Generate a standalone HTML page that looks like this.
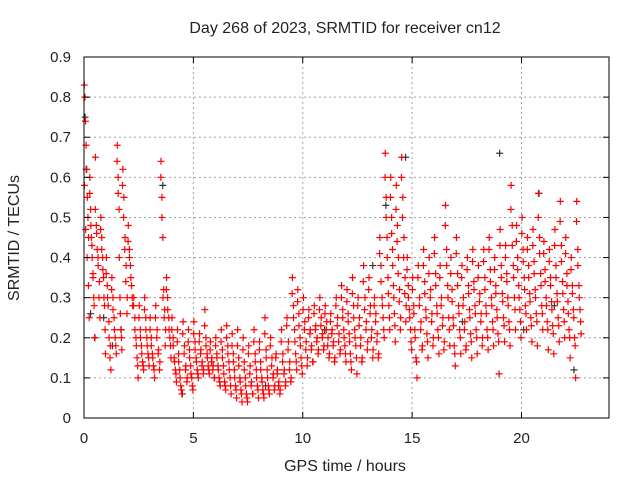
<!DOCTYPE html>
<html><head><meta charset="utf-8"><style>
body{margin:0;background:#fff;}
svg text{font-family:"Liberation Sans",sans-serif;fill:#222;}
</style></head><body>
<svg id="chart" width="640" height="480" xmlns="http://www.w3.org/2000/svg">
<rect width="640" height="480" fill="#fff"/>
<g id="grid"></g>
<g id="points"></g>
<rect x="84" y="57" width="525" height="361" fill="none" stroke="#000" stroke-width="1"/>
<g id="ticks"></g>
<text x="345" y="33" font-size="16" text-anchor="middle">Day 268 of 2023, SRMTID for receiver cn12</text>
<text x="345" y="471" font-size="16" text-anchor="middle">GPS time / hours</text>
<text transform="translate(19,238) rotate(-90)" font-size="16" text-anchor="middle">SRMTID / TECUs</text>
</svg>
<script>
const xTicks=[0,5,10,15,20];
const yTicks=[0,0.1,0.2,0.3,0.4,0.5,0.6,0.7,0.8,0.9];
const binWidth=0.25;
const redBins=[
[.83,.80,.74,.68,.62,.55,.50,.45,.25],[.60,.52,.45,.40,.35,.30,.20],[.65,.48,.42,.38,.30,.25],[.50,.45,.40,.35,.28,.16],
[.40,.33,.28,.20,.15,.12],[.35,.30,.25,.20,.16],[.68,.60,.52,.30,.22,.17],[.62,.55,.45,.38,.30],
[.48,.42,.38,.33,.28],[.30,.25,.20,.15,.10],[.28,.22,.18,.14,.12],[.30,.25,.20,.16,.13],
[.25,.20,.16,.13,.10],[.28,.22,.17,.14],[.64,.55,.45,.32,.27,.22],[.35,.30,.25,.20,.15],
[.25,.20,.15,.12,.09],[.22,.16,.12,.08,.06],[.24,.18,.13,.10],[.22,.17,.13,.10,.07],
[.24,.19,.15,.12,.10],[.21,.17,.14,.12],[.27,.20,.16,.13,.11],[.19,.15,.13,.10],
[.20,.16,.13,.10,.08],[.22,.17,.13,.09,.07],[.23,.18,.14,.10,.06],[.21,.16,.12,.08,.05],
[.22,.15,.10,.07,.04],[.20,.14,.10,.06,.04],[.18,.13,.09,.06],[.22,.16,.12,.08,.05],
[.19,.14,.10,.07,.05],[.25,.17,.12,.08,.06],[.20,.15,.11,.08],[.16,.12,.09,.07],
[.22,.16,.12,.09],[.25,.19,.14,.10],[.35,.28,.22,.16,.12],[.32,.26,.20,.15,.11],
[.30,.24,.19,.15],[.27,.22,.18,.14],[.28,.23,.20,.17],[.30,.25,.21,.18],
[.28,.24,.20,.16],[.26,.22,.19,.15],[.30,.25,.21,.17],[.33,.27,.22,.18,.14],
[.32,.26,.21,.16,.12],[.35,.28,.22,.18,.11],[.30,.25,.20,.15],[.38,.30,.24,.19],
[.35,.28,.22,.17],[.30,.26,.21,.16],[.45,.38,.30,.25,.20],[.66,.55,.45,.35,.28,.22],
[.60,.50,.42,.33,.26,.19],[.58,.48,.40,.32,.25],[.65,.55,.45,.35,.28],[.40,.33,.27,.22,.17],
[.35,.28,.22,.15,.10],[.38,.30,.24,.18],[.42,.34,.27,.21,.15],[.40,.32,.26,.20],
[.45,.36,.28,.22,.16],[.38,.30,.25,.19],[.53,.42,.33,.25,.18],[.40,.32,.25,.18,.13],
[.45,.36,.28,.22,.16],[.38,.30,.24,.18],[.40,.33,.27,.21,.15],[.42,.34,.28,.22,.16],
[.38,.31,.26,.20],[.42,.35,.28,.22,.17],[.45,.37,.30,.24,.18],[.40,.33,.27,.21,.11],
[.47,.38,.31,.25,.19],[.43,.36,.30,.24,.18],[.58,.48,.38,.30,.22],[.48,.40,.33,.27,.20],
[.50,.42,.35,.28,.22],[.45,.38,.31,.25,.19],[.47,.39,.32,.26,.18],[.56,.45,.36,.28,.22],
[.44,.37,.30,.24,.17],[.42,.35,.29,.23,.16],[.47,.38,.31,.25,.19],[.54,.43,.34,.27,.20],
[.45,.36,.29,.22,.15],[.40,.33,.27,.20,.10],[.54,.42,.33,.27,.21]
];
const redBins2=[
[.58,.47,.40,.33],[.56,.48,.43,.36,.28],[.52,.46,.40,.34],[.47,.42,.37,.30,.22],
[.36,.30,.24,.18],[.32,.27,.22,.18],[.64,.56,.40,.26,.20],[.58,.50,.42,.34,.26],
[.44,.40,.35,.30],[.28,.22,.18,.13],[.25,.20,.16,.13],[.27,.22,.18,.15],
[.22,.18,.15,.12],[.25,.20,.16,.12],[.60,.50,.30,.25,.18],[.32,.27,.22,.18],
[.22,.18,.14,.11],[.19,.14,.10,.07],[.21,.16,.12,.09],[.19,.15,.11,.08],
[.21,.17,.14,.11],[.19,.16,.13,.11],[.23,.18,.15,.12],[.17,.14,.12,.10],
[.18,.15,.12,.09],[.19,.15,.11,.08],[.20,.16,.12,.08],[.18,.14,.10,.07],
[.18,.13,.09,.06],[.17,.12,.08,.05],[.16,.11,.08,.06],[.19,.14,.10,.07],
[.17,.12,.09,.06],[.21,.15,.10,.07],[.18,.13,.10,.07],[.15,.11,.08,.06],
[.19,.14,.11,.08],[.23,.17,.12,.09],[.31,.25,.19,.14],[.29,.23,.18,.13],
[.27,.22,.17,.13],[.25,.21,.17,.14],[.26,.22,.19,.16],[.27,.23,.20,.17],
[.26,.22,.18,.15],[.24,.21,.18,.14],[.28,.23,.19,.16],[.30,.25,.20,.16],
[.29,.24,.19,.14],[.31,.25,.20,.15],[.28,.23,.18,.14],[.34,.27,.22,.17],
[.32,.26,.20,.15],[.28,.24,.19,.15],[.41,.34,.28,.22],[.60,.50,.40,.31,.25],
[.55,.46,.38,.30,.23],[.52,.44,.36,.29,.22],[.60,.50,.40,.31,.24],[.37,.30,.25,.19],
[.32,.26,.20,.14],[.35,.28,.22,.17],[.38,.31,.25,.19],[.36,.30,.24,.18],
[.41,.33,.26,.20],[.35,.28,.23,.17],[.48,.38,.30,.22],[.36,.29,.23,.16],
[.41,.33,.26,.20],[.35,.28,.22,.17],[.37,.31,.25,.19],[.39,.32,.26,.20],
[.35,.29,.24,.18],[.39,.32,.26,.20],[.42,.34,.28,.22],[.37,.31,.25,.19],
[.43,.35,.29,.23],[.40,.34,.28,.22],[.52,.43,.35,.27],[.44,.37,.30,.24],
[.46,.39,.32,.26],[.42,.35,.29,.23],[.43,.36,.30,.24],[.50,.41,.33,.26],
[.41,.34,.28,.22],[.39,.33,.27,.21],[.43,.35,.29,.23],[.49,.39,.31,.24],
[.41,.33,.26,.20],[.37,.31,.25,.18],[.49,.38,.30,.24]
];
const blackTimes=[0.05,0.1,0.3,0.5,0.9,1.3,1.7,3.6,4.5,8.3,11.0,13.2,13.8,14.7,17.3,19.0,20.1,20.8,21.5,22.4];
const blackValues=[0.75,0.62,0.26,0.20,0.25,0.18,0.22,0.58,0.06,0.08,0.22,0.38,0.53,0.65,0.24,0.66,0.22,0.56,0.28,0.12];
const X=t=>84+t*(525/24);
const Y=v=>418-v*(361/0.9);
const NS="http://www.w3.org/2000/svg";
const grid=document.getElementById('grid'),ticks=document.getElementById('ticks'),pts=document.getElementById('points');
function mk(tag,attrs,parent){const e=document.createElementNS(NS,tag);for(const k in attrs)e.setAttribute(k,attrs[k]);parent.appendChild(e);return e;}
xTicks.forEach(t=>{
 const x=X(t);
 if(t>0){const g=mk('line',{x1:x,x2:x,y1:57,y2:418,stroke:'#a0a0a0','stroke-dasharray':'2,3'},grid);
 
 }
 mk('line',{x1:x,x2:x,y1:418,y2:412,stroke:'#000'},ticks);
 mk('line',{x1:x,x2:x,y1:57,y2:63,stroke:'#000'},ticks);
 const l=mk('text',{x:x,y:443,'font-size':15,'text-anchor':'middle'},ticks);l.textContent=t;
 
 
});
yTicks.forEach(v=>{
 const y=Y(v);
 if(v>0&&v<0.9){const g=mk('line',{x1:84,x2:609,y1:y,y2:y,stroke:'#a0a0a0','stroke-dasharray':'2,3'},grid);
 
 }
 mk('line',{x1:84,x2:90,y1:y,y2:y,stroke:'#000'},ticks);
 mk('line',{x1:609,x2:603,y1:y,y2:y,stroke:'#000'},ticks);
 const l=mk('text',{x:71,y:y+5,'font-size':15,'text-anchor':'end'},ticks);l.textContent=String(v);
 
 
});
function cross(t,v,color,name){
 const x=X(t),y=Y(v);
 const p=mk('path',{d:`M${x-3.5},${y}h7M${x},${y-3.5}v7`,stroke:color,'stroke-width':1.2},pts);
 
 
}
blackTimes.forEach((t,i)=>cross(t,blackValues[i],'#333','black-point'));
redBins.forEach((vals,i)=>{
 vals.forEach((v,j)=>cross(i*binWidth+(j+0.5)/vals.length*binWidth,v,'#ff0000','red-point'));
});
redBins2.forEach((vals,i)=>{
 vals.forEach((v,j)=>cross(i*binWidth+(j+0.25)/vals.length*binWidth,v,'#ff0000','red-point'));
});
</script>
</body></html>
